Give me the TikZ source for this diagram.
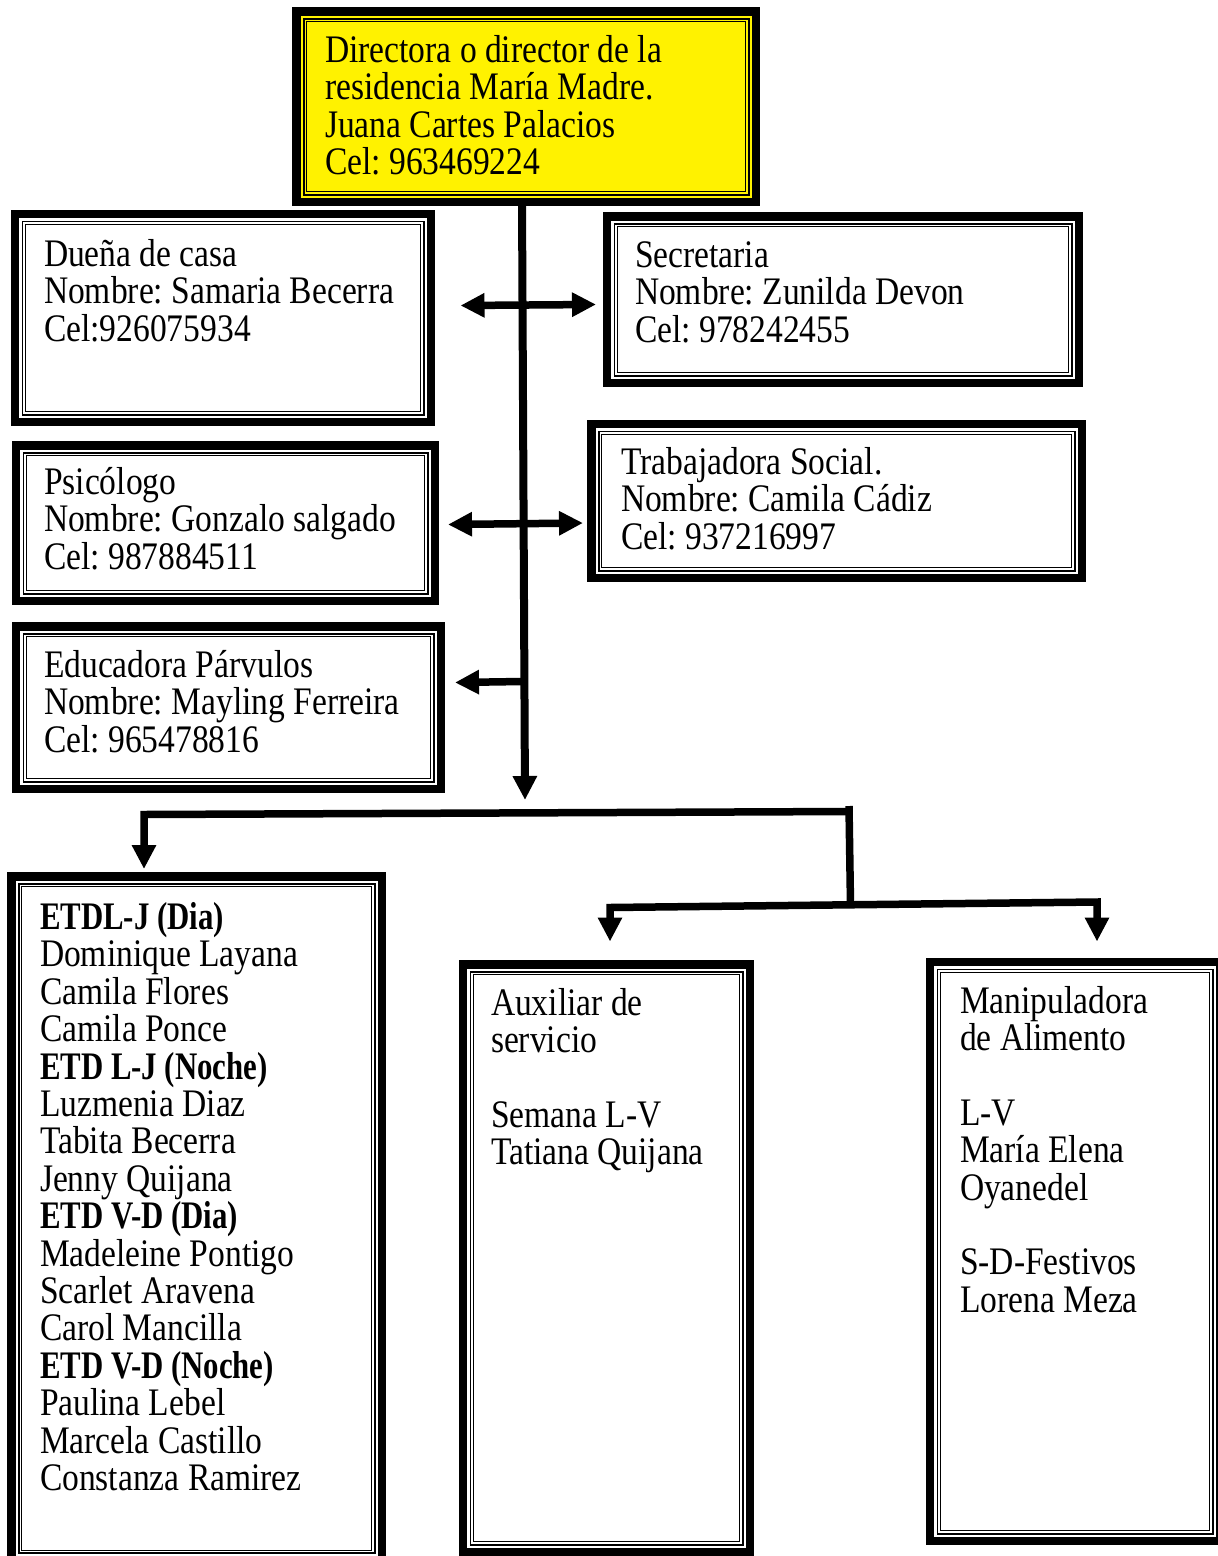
\documentclass[tikz,border=0pt]{standalone}
\usepackage{fontspec}
\setmainfont{Liberation Serif}[FakeStretch=0.86]
\newfontfamily\hdfont{Liberation Serif}[FakeStretch=0.79]
\usetikzlibrary{arrows.meta}
\frenchspacing
\newcommand\mylines[1]{\vtop{\frenchspacing\baselineskip=37.4pt\lineskiplimit=-1000pt\lineskip=0pt #1}}
\newcommand\hd[1]{{\hdfont\bfseries #1}}
\tikzset{
  orgbox/.style={draw, line width=8.5pt, inner sep=0pt, outer sep=0pt, anchor=north west, fill=white,
    path picture={
      \draw[line width=1.6pt] ([shift={(7.3pt,-7.3pt)}]path picture bounding box.north west) rectangle ([shift={(-7.3pt,7.3pt)}]path picture bounding box.south east);
      \draw[line width=1pt] ([shift={(10.3pt,-10.3pt)}]path picture bounding box.north west) rectangle ([shift={(-10.3pt,10.3pt)}]path picture bounding box.south east);
    }},
  txt/.style={anchor=base west, inner sep=0pt, outer sep=0pt, font=\fontsize{39}{37.4}\selectfont\frenchspacing},
  conn/.style={line width=7.5pt, line join=miter},
  tipend/.style={conn, -{Triangle[length=24pt,width=23pt]}},
  tipboth/.style={conn, {Triangle[length=24pt,width=23pt]}-{Triangle[length=24pt,width=23pt]}}
}
\begin{document}
\begin{tikzpicture}[x=1pt,y=-1pt]
\useasboundingbox (0,0) rectangle (1218,1556);
\clip (0,0) rectangle (1218,1556);
\fill[white] (0,0) rectangle (1218,1556);

% boxes
\node[orgbox, fill=yellow, minimum width=459.5pt, minimum height=190.5pt] (dir) at (296.5,11.5) {};
\node[orgbox, minimum width=416pt, minimum height=208pt] (due) at (15,214) {};
\node[orgbox, minimum width=472pt, minimum height=166.5pt] (sec) at (607,216.5) {};
\node[orgbox, minimum width=419pt, minimum height=155.5pt] (psi) at (16,445.5) {};
\node[orgbox, minimum width=490.5pt, minimum height=154pt] (tra) at (591.5,424) {};
\node[orgbox, minimum width=425pt, minimum height=162.5pt] (edu) at (16,626.5) {};
\node[orgbox, minimum width=370.5pt, minimum height=684pt] (etd) at (11.5,876.5) {};
\node[orgbox, minimum width=287pt, minimum height=587.5pt] (aux) at (463,964.5) {};
\node[orgbox, minimum width=290pt, minimum height=579pt] (man) at (930,962) {};

% texts
\node[txt] (dirt) at (325,62.5) {\mylines{\hbox{Directora o director de la}\hbox{residencia María Madre.}\hbox{Juana Cartes Palacios}\hbox{Cel: 963469224}}};
\node[txt] (duet) at (44,266.5) {\mylines{\hbox{Dueña de casa}\hbox{Nombre: Samaria Becerra}\hbox{Cel:926075934}}};
\node[txt] (sect) at (635,267.5) {\mylines{\hbox{Secretaria}\hbox{Nombre: Zunilda Devon}\hbox{Cel: 978242455}}};
\node[txt] (psit) at (44,494.5) {\mylines{\hbox{Psicólogo}\hbox{Nombre: Gonzalo salgado}\hbox{Cel: 987884511}}};
\node[txt] (trat) at (621,474.5) {\mylines{\hbox{Trabajadora Social.}\hbox{Nombre: Camila Cádiz}\hbox{Cel: 937216997}}};
\node[txt] (edut) at (44,677.5) {\mylines{\hbox{Educadora Párvulos}\hbox{Nombre: Mayling Ferreira}\hbox{Cel: 965478816}}};
\node[txt] (etdt) at (40,929.5) {\mylines{\hbox{\hd{ETDL-J (Dia)}}\hbox{Dominique Layana}\hbox{Camila Flores}\hbox{Camila Ponce}\hbox{\hd{ETD L-J (Noche)}}\hbox{Luzmenia Diaz}\hbox{Tabita Becerra}\hbox{Jenny Quijana}\hbox{\hd{ETD V-D (Dia)}}\hbox{Madeleine Pontigo}\hbox{Scarlet Aravena}\hbox{Carol Mancilla}\hbox{\hd{ETD V-D (Noche)}}\hbox{Paulina Lebel}\hbox{Marcela Castillo}\hbox{Constanza Ramirez}}};
\node[txt] (auxt) at (491,1015) {\mylines{\hbox{Auxiliar de}\hbox{servicio}\hbox{}\hbox{Semana L-V}\hbox{Tatiana Quijana}}};
\node[txt] (mant) at (960,1013) {\mylines{\hbox{Manipuladora}\hbox{de Alimento}\hbox{}\hbox{L-V}\hbox{María Elena}\hbox{Oyanedel}\hbox{}\hbox{S-D-Festivos}\hbox{Lorena Meza}}};

% connector points
\coordinate (t0) at (522,202);
\coordinate (t1) at (525,800);
\coordinate (d1l) at (460.5,305.5);
\coordinate (d1r) at (596,304.5);
\coordinate (d2l) at (448,524.5);
\coordinate (d2r) at (583,523);
\coordinate (s1a) at (522,681.5);
\coordinate (s1b) at (455,682.5);
\coordinate (h1r) at (849,811.5);
\coordinate (h1l) at (144,814.5);
\coordinate (h1t) at (144,869);
\coordinate (v1a) at (849,806);
\coordinate (v1b) at (850.5,905);
\coordinate (h2l) at (610,907.5);
\coordinate (h2lt) at (610,941.5);
\coordinate (h2r) at (1097,902);
\coordinate (h2rt) at (1097,941.5);

% connectors
\draw[tipend, line width=8pt] (t0) -- (t1);
\draw[tipboth] (d1l) -- (d1r);
\draw[tipboth] (d2l) -- (d2r);
\draw[tipend] (s1a) -- (s1b);
\draw[tipend] (h1r) -- (h1l) -- (h1t);
\draw[conn] (v1a) -- (v1b);
\draw[tipboth] (h2lt) -- (h2l) -- (h2r) -- (h2rt);
\end{tikzpicture}
\end{document}
